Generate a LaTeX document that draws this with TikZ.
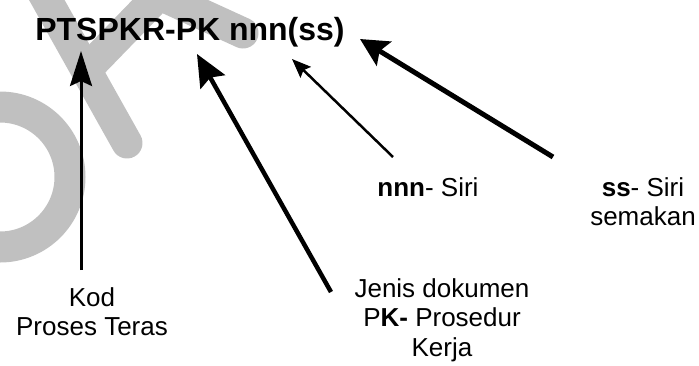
\documentclass[tikz,border=0pt]{standalone}
\usepackage{fontspec}
\setmainfont{Liberation Sans}
\usetikzlibrary{arrows.meta}
\definecolor{wmgray}{HTML}{C0C0C0}
\begin{document}
\begin{tikzpicture}[x=1pt,y=-1pt,
  wm/.style={draw=wmgray,line width=31pt},
  lbl/.style={inner sep=0pt,align=center,font=\fontsize{26}{29.5}\selectfont},
  ttl/.style={inner sep=0pt,font=\fontsize{32}{36}\selectfont\bfseries},
  arr/.style={draw=black}]
\useasboundingbox (0,0) rectangle (699,365);
% watermark
\begin{scope}
\clip (0,0) rectangle (699,365);
\draw[wm] (0,177) circle[radius=70];
\draw[wm,line cap=round] (30,-30) -- (127,143);
\draw[wm,line cap=round] (90,66) -- (185,-32);
\draw[wm,line cap=round] (160,-5) -- (243,33);
\end{scope}
% title
\node[ttl,anchor=base] (title) at (190,40) {PTSPKR-PK nnn(ss)};
% labels
\node[lbl,anchor=north] (kod) at (92,287) {Kod\\Proses Teras};
\node[lbl,anchor=base] (nnn) at (428,196) {\textbf{nnn}- Siri};
\node[lbl,anchor=north] (ss) at (643,177) {\textbf{ss}- Siri\\semakan};
\node[lbl,anchor=north] (jenis) at (442,278) {Jenis dokumen\\P\textbf{K-} Prosedur\\Kerja};
% arrow ends
\coordinate (k0) at (81,270);  \coordinate (k1) at (81,51);
\coordinate (p0) at (331,292); \coordinate (p1) at (197,54);
\coordinate (n0) at (393,157); \coordinate (n1) at (292,59);
\coordinate (s0) at (553,157); \coordinate (s1) at (360,39);
\draw[arr,line width=3pt,-{Stealth[length=35pt,width=22pt,inset=5pt]}] (k0) -- (k1);
\draw[arr,line width=4.5pt,-{Stealth[length=32pt,width=28pt,inset=5pt]}] (p0) -- (p1);
\draw[arr,line width=2.5pt,-{Stealth[length=19pt,width=15pt,inset=3pt]}] (n0) -- (n1);
\draw[arr,line width=5pt,-{Stealth[length=28pt,width=28pt,inset=5pt]}] (s0) -- (s1);
\end{tikzpicture}
\end{document}
